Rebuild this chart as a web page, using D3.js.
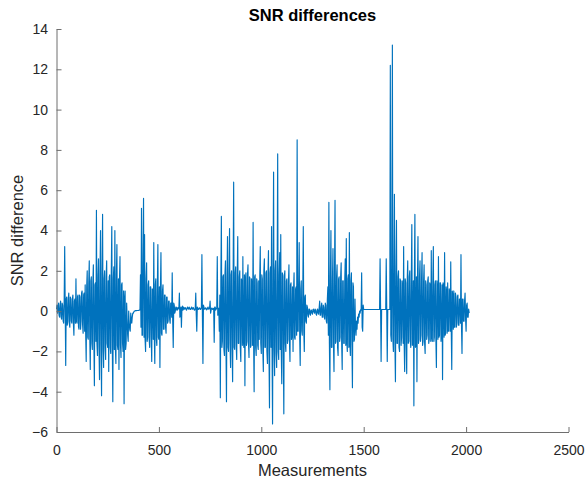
<!DOCTYPE html>
<html lang="en">
<head>
<meta charset="UTF-8">
<title>SNR differences</title>
<script src="https://d3js.org/d3.v7.min.js"></script>
<style>
  body { margin: 0; background: #fff; }
  text { font-family: "Liberation Sans", Arial, Helvetica, sans-serif; }
</style>
</head>
<body>
<script>
const step = 5;
const snr = [
  0.1, -0.1, 0.4, -0.3, 0.5, -0.4, 0.3, -0.6, 3.2, -2.7, 0.7, -0.5, 0.9, -0.8, 0.6, -0.6, 0.8, -1.2, 0.6, 1.6,
  -0.6, 0.8, -0.9, 0.7, -0.5, 1.0, -1.1, 0.9, 1.3, -2.5, 2.0, -1.4, 2.5, -2.9, 1.7, -1.9, 2.3, -3.7, 1.4, 5.0,
  -2.2, 2.6, -3.4, 4.0, -4.2, 4.8, -2.8, 2.0, -2.4, 2.5, -1.8, -3.0, 1.8, -2.1, 4.2, -4.5, 2.2, 4.0, -2.6, 3.3,
  -1.9, -2.9, 2.7, -2.3, 1.4, -2.0, -4.6, 1.0, -1.6, -0.4, -1.5, -0.6, -1.0, -0.4, -0.3, -0.1, 0.0, 0.02, 0.02, 0.03,
  0.03, 0.05, 1.8, 5.1, -1.2, 5.6, 3.8, -2.0, 2.4, -1.3, 1.5, -1.8, 1.2, -2.5, 1.0, 3.4, -2.6, 1.6, -1.7, 3.3,
  -1.4, -2.8, 2.9, -1.2, 1.3, -0.9, 0.8, -1.1, 0.7, -0.5, 0.5, -0.6, 0.4, 1.9, -1.8, 0.3, 0.0, 0.2, 0.05, 0.15,
  0.9, -0.2, -0.8, 0.25, 0.2, 0.1, 0.15, 0.05, 0.2, 0.1, 0.15, 0.08, 0.2, 0.1, 0.12, 0.05, 0.9, -1.0, 0.15, 0.1,
  0.15, 0.1, 2.8, -2.6, 0.2, 0.1, 0.15, 0.08, 0.2, 0.1, 0.5, 0.05, 0.15, 0.1, -1.55, 0.2, 0.1, 2.7, 0.15, -1.0,
  -4.3, 4.7, -1.5, 1.8, -2.2, 2.5, -4.5, 3.7, -2.0, 4.1, -2.8, 2.0, -3.5, 6.4, -1.9, 2.2, -2.4, 3.7, -1.6, 2.0,
  -2.5, 1.5, 2.7, -1.8, -3.7, 1.9, -1.5, 2.3, -2.3, 1.6, -1.7, 1.2, 4.4, -4.0, 1.8, -2.2, 1.4, -1.9, -1.4, 3.2,
  -2.1, 1.6, -3.0, 2.6, -1.8, 2.0, -2.6, 3.0, -4.8, 2.2, 4.2, -5.6, 6.9, -3.2, 2.5, -2.8, 7.8, -2.4, 2.9, 3.8,
  -3.6, 1.8, -5.1, 2.0, -2.0, 1.6, -1.4, 2.3, -2.5, 1.4, -1.2, -2.0, 1.9, -1.4, 1.2, 8.5, -1.0, 3.4, -2.7, 1.5,
  -1.2, 4.2, -2.0, 0.8, -0.6, 0.2, -0.3, 0.1, -0.2, 0.05, -0.15, 0.1, -0.1, 0.05, -0.2, 0.1, -0.15, 0.5, -0.2, 0.4,
  -0.3, 0.2, -0.4, 0.3, -0.6, 1.2, 5.4, -3.9, 4.0, -1.8, 3.1, -3.0, 5.5, -1.5, 2.3, -2.2, 1.7, -1.3, 2.4, -2.9,
  1.5, -1.6, 2.6, 3.6, -2.0, 1.8, 3.9, -2.2, 1.9, -3.8, 1.2, -1.4, -0.8, -0.5, -0.3, -0.15, 0.0, 0.08, 1.9, -1.0,
  0.08, 0.08, 0.08, 0.08, 0.08, 0.08, 0.08, 0.08, 0.08, 0.08, 0.08, 0.08, 0.08, 0.08, 0.08, 0.08, 2.6, -2.5, 0.08, 0.08,
  0.08, 0.08, 2.6, -2.5, 0.08, 0.08, 12.2, -1.5, 13.2, -2.0, 5.8, -3.5, 4.5, -1.6, 2.0, -2.0, 1.5, -1.3, 1.2, 3.2,
  -3.0, 1.4, -3.1, 2.5, -1.5, 2.0, -1.8, 4.3, -1.6, -4.7, 4.8, -1.7, -3.5, 3.7, -1.4, 2.5, -1.2, 2.9, -1.5, 2.3,
  -2.1, 1.3, -1.2, 1.7, -1.4, 1.2, 3.0, -1.5, 3.2, -1.3, 1.5, -2.8, 1.1, 2.7, -1.2, 1.4, -1.0, -3.4, 1.2, 2.9,
  -1.1, 1.0, 1.4, -1.0, 0.9, 2.45, -2.9, 0.8, 1.0, -0.8, 0.76, -0.6, 0.8, -0.7, 0.6, 2.8, -2.1, 0.6, -0.5, 0.9,
  -1.0, 0.4, -0.3, -0.1
];
// readings half-way between the ones above (dense core of the noise)
const core = [
  0.3, 0.2, -0.2, 0.3, -0.3, 0.4, -0.5, 0.5, 0.2, 0.6, -0.7, 0.6, -0.6, 0.7, -0.5, 0.6, -0.6, 0.5, -0.6, -0.5,
  0.7, -0.8, 0.8, -0.9, 0.9, -0.7, 0.8, -1.0, -1.1, 1.2, -1.3, 1.4, -1.3, 1.5, -1.6, 1.4, -1.5, 1.3, -1.5, -1.6,
  1.7, -1.8, 1.9, -1.7, 1.8, -1.9, 1.6, -1.8, 1.7, -1.6, 1.5, 1.7, -1.8, 1.9, -1.7, 1.6, -1.9, -1.8, 1.8, -1.7,
  1.6, 1.5, -1.7, 1.3, -1.6, 1.0, 0.6, -1.9, 0.4, -1.2, 0.0, -0.9, -0.1, -0.6, -0.1, -0.05, 0.0, 0.02, 0.03, 0.03,
  0.04, 0.06, -0.8, -1.2, 2.9, -1.3, -1.4, 1.6, -1.5, 1.3, -1.4, 1.2, -1.3, 1.1, -1.4, -1.2, 1.3, -1.4, 1.2, -1.3,
  1.2, 1.1, -1.1, 1.0, -0.9, 0.8, -0.8, 0.7, -0.6, 0.5, -0.4, 0.4, -0.3, -0.5, 0.4, -0.1, 0.2, 0.05, 0.18, 0.1,
  -0.3, 0.2, 0.15, 0.05, 0.1, 0.18, 0.08, 0.15, 0.12, 0.2, 0.08, 0.15, 0.1, 0.18, 0.06, 0.15, -0.2, 0.2, 0.08, 0.16,
  0.08, 0.18, -0.3, 0.3, 0.1, 0.16, 0.06, 0.15, 0.1, 0.18, -0.1, 0.15, 0.08, 0.14, 0.2, 0.05, 0.15, -0.2, 0.1, 0.8,
  1.5, -1.8, 1.7, -1.9, 1.8, -1.7, 1.6, -1.8, 1.9, -1.6, 1.8, -1.9, 1.7, -1.8, 1.9, -1.7, 1.8, -1.6, 1.7, -1.8,
  1.6, -1.7, -1.5, 1.8, 1.6, -1.7, 1.8, -1.6, 1.7, -1.8, 1.6, -1.7, -1.5, 1.7, -1.8, 1.6, -1.7, 1.5, 1.7, -1.6,
  1.8, -1.9, 2.0, -1.8, 1.9, -2.0, 1.8, -2.1, 1.9, -1.8, -2.0, 2.1, -1.9, 2.0, -2.1, 1.9, -2.0, 1.8, -1.9, -2.0,
  1.9, -1.8, 1.7, -1.6, 1.5, -1.6, 1.4, -1.5, 1.3, -1.4, 1.2, 1.0, -1.3, 1.1, -1.2, -1.0, 1.2, -1.3, 1.1, -1.0,
  0.9, -1.0, 0.7, -0.5, 0.3, -0.2, 0.1, -0.15, 0.05, -0.1, 0.08, -0.05, 0.1, -0.15, 0.05, -0.1, 0.15, -0.2, 0.2, -0.3,
  0.3, -0.3, 0.4, -0.5, 0.6, -1.2, -1.6, 1.7, -1.8, 1.6, -1.7, 1.8, -1.6, 1.7, -1.8, 1.6, -1.5, 1.7, -1.6, 1.5,
  -1.6, 1.5, -1.7, -1.5, 1.6, -1.8, -1.6, 1.5, -1.7, 1.4, -1.5, 0.6, -1.2, -0.9, -0.6, -0.3, -0.1, 0.05, -0.8, 0.3,
  0.08, 0.08, 0.08, 0.08, 0.08, 0.08, 0.08, 0.08, 0.08, 0.08, 0.08, 0.08, 0.08, 0.08, 0.08, 0.08, 0.08, 0.08, 0.08, 0.08,
  0.08, 0.08, 0.08, 0.08, 0.08, 0.08, -1.2, 1.5, -1.4, 1.6, -1.7, 1.8, -1.6, 1.7, -1.8, 1.6, -1.7, 1.5, -1.6, -1.5,
  1.6, -1.7, 1.5, -1.6, 1.7, -1.5, 1.6, -1.7, 1.5, 1.6, -1.8, 1.7, 1.5, -1.6, 1.7, -1.5, 1.6, -1.7, 1.5, -1.6,
  1.5, -1.4, 1.5, -1.6, 1.4, -1.5, -1.3, 1.4, -1.5, 1.3, -1.4, 1.5, -1.4, -1.3, 1.4, -1.5, 1.3, 1.4, -1.3, -1.2,
  1.2, -1.1, -1.0, 1.1, -1.0, -0.9, 1.0, -0.9, -0.8, 0.9, -0.8, 0.7, -0.7, 0.6, -0.6, -0.7, 0.6, -0.5, 0.5, -0.4,
  0.3, -0.3, 0.1
];
const xTicks = [0, 500, 1000, 1500, 2000, 2500];
const yTicks = [-6, -4, -2, 0, 2, 4, 6, 8, 10, 12, 14];

// measurement index + value, in the order they were taken
const points = [];
snr.forEach((v, i) => {
    points.push([i * step, v]);
    if (i < core.length) points.push([i * step + step / 2, core[i]]);
});

const width = 586, height = 482;
const margin = { top: 29, right: 17.5, bottom: 50, left: 56.5 };

const svg = d3.select("body").append("svg")
    .attr("width", width)
    .attr("height", height);

const x = d3.scaleLinear().domain([0, 2500]).range([margin.left, width - margin.right]);
const y = d3.scaleLinear().domain([-6, 14]).range([height - margin.bottom, margin.top]);

const line = d3.line()
    .x(d => x(d[0]))
    .y(d => y(d[1]));

svg.append("path")
    .datum(points)
    .attr("fill", "none")
    .attr("stroke", "#0072bd")
    .attr("stroke-width", 1.15)
    .attr("stroke-linejoin", "round")
    .attr("d", line);

// axes, MATLAB style: ticks pointing inward, no box
const xAxis = svg.append("g")
    .attr("transform", `translate(0,${height - margin.bottom})`)
    .call(d3.axisBottom(x).tickValues(xTicks).tickFormat(d3.format("d"))
        .tickSize(-5).tickSizeOuter(0).tickPadding(13));

const yAxis = svg.append("g")
    .attr("transform", `translate(${margin.left},0)`)
    .call(d3.axisLeft(y).tickValues(yTicks).tickFormat(d3.format("d"))
        .tickSize(-5).tickSizeOuter(0).tickPadding(8.5));

[xAxis, yAxis].forEach(g => {
    g.select(".domain").attr("stroke", "#6e6e6e");
    g.selectAll(".tick line").attr("stroke", "#6e6e6e");
    g.selectAll(".tick text")
        .attr("fill", "#262626")
        .style("font-size", "14px")
        .style("font-family", "'Liberation Sans', Arial, sans-serif");
});

svg.append("text")
    .attr("x", (margin.left + width - margin.right) / 2)
    .attr("y", 21)
    .attr("text-anchor", "middle")
    .attr("fill", "#000")
    .style("font-size", "16.5px")
    .style("font-weight", "bold")
    .text("SNR differences");

svg.append("text")
    .attr("x", (margin.left + width - margin.right) / 2)
    .attr("y", 476)
    .attr("text-anchor", "middle")
    .attr("fill", "#262626")
    .style("font-size", "16.5px")
    .text("Measurements");

svg.append("text")
    .attr("transform", `translate(23,${(margin.top + height - margin.bottom) / 2}) rotate(-90)`)
    .attr("text-anchor", "middle")
    .attr("fill", "#262626")
    .style("font-size", "16.5px")
    .text("SNR difference");
</script>
</body>
</html>
